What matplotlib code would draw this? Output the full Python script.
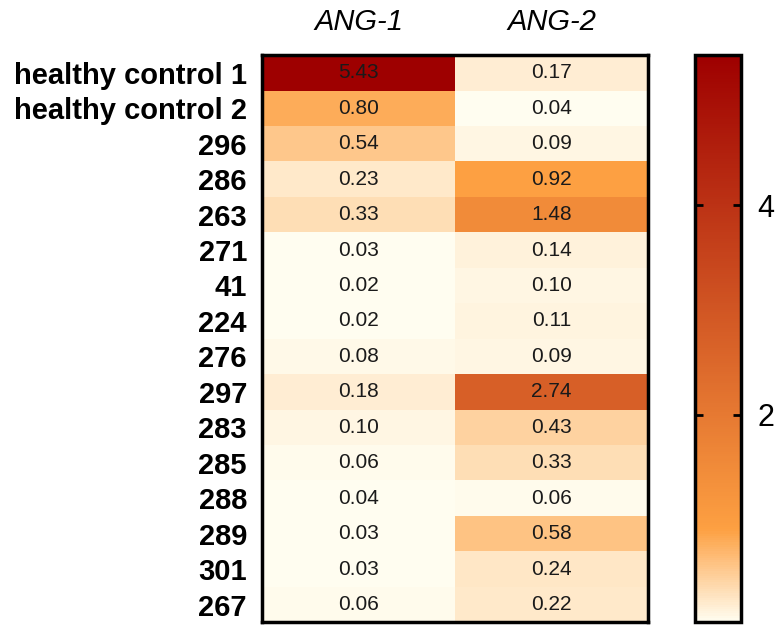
import numpy as np
import matplotlib
matplotlib.use("Agg")
import matplotlib.pyplot as plt
from matplotlib.colors import LinearSegmentedColormap, Normalize

plt.rcParams['font.family'] = ['Liberation Sans', 'DejaVu Sans']

samples = ["healthy control 1", "healthy control 2", "296", "286", "263", "271",
           "41", "224", "276", "297", "283", "285", "288", "289", "301", "267"]
genes = ["ANG-1", "ANG-2"]
ang1 = [5.43, 0.80, 0.54, 0.23, 0.33, 0.03, 0.02, 0.02, 0.08, 0.18, 0.10, 0.06, 0.04, 0.03, 0.03, 0.06]
ang2 = [0.17, 0.04, 0.09, 0.92, 1.48, 0.14, 0.10, 0.11, 0.09, 2.74, 0.43, 0.33, 0.06, 0.58, 0.24, 0.22]
cbar_ticks = [2, 4]

data = np.column_stack([ang1, ang2])
vmin, vmax = data.min(), data.max()

knee = (0.9 - vmin) / (vmax - vmin)
cmap = LinearSegmentedColormap.from_list(
    "cream_orange_red",
    [(0.0, "#FFFDF0"), (knee, "#FDA042"), (1.0, "#9E0000")])
norm = Normalize(vmin=vmin, vmax=vmax)

fig = plt.figure(figsize=(7.78, 6.26), dpi=100)
ax = fig.add_axes([0.337, 0.006, 0.496, 0.906])
mesh = ax.pcolormesh(np.arange(len(genes) + 1), np.arange(len(samples) + 1), data,
                     cmap=cmap, norm=norm)
ax.set_xlim(0, len(genes))
ax.set_ylim(len(samples), 0)

for i in range(len(samples)):
    for j in range(len(genes)):
        ax.text(j + 0.5, i + 0.5, f"{data[i, j]:.2f}", ha="center", va="center",
                fontsize=15, color="#1a1a1a")

ax.set_yticks(np.arange(len(samples)) + 0.5)
ax.set_yticklabels(samples, fontsize=21, fontweight="bold")
ax.set_xticks(np.arange(len(genes)) + 0.5)
ax.set_xticklabels(genes, fontsize=21, fontstyle="italic")
ax.xaxis.tick_top()
ax.tick_params(axis="both", length=0)
ax.tick_params(axis="y", pad=11)
ax.tick_params(axis="x", pad=14)
for s in ax.spines.values():
    s.set_linewidth(2.5)
    s.set_color("black")

cax = fig.add_axes([0.893, 0.006, 0.059, 0.906])
cb = fig.colorbar(mesh, cax=cax)
cb.set_ticks(cbar_ticks)
cb.ax.tick_params(direction="in", length=6, width=2, left=True, right=True,
                  labelsize=22, pad=12)
cb.outline.set_linewidth(2.5)
cb.outline.set_edgecolor("black")

fig.savefig("out.png", dpi=100)
